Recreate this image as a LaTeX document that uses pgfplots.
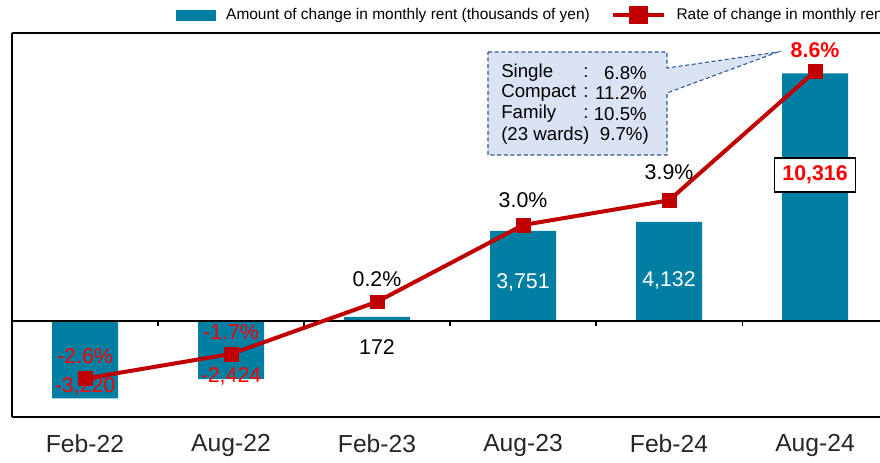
\documentclass[border=0pt]{standalone}
\usepackage{fontspec}
\setmainfont{Liberation Sans}
\usepackage{pgfplots}
\pgfplotsset{compat=1.18}
\definecolor{barcol}{RGB}{0,127,163}
\definecolor{linecol}{RGB}{192,0,0}
\definecolor{lblred}{RGB}{255,0,0}
\definecolor{callfill}{RGB}{218,227,243}
\definecolor{callline}{RGB}{47,85,151}
\newcommand{\lbl}{\fontsize{16}{18}\selectfont}
\begin{document}
\begin{tikzpicture}
\clip (0,0) rectangle (660pt,346.5pt);
\pgfplotsset{
  base/.style={scale only axis, width=651pt, height=288pt,
    at={(9pt,33.75pt)}, anchor=south west,
    xmin=-0.5, xmax=5.445, clip=false}
}
% ---------- bars (left axis) ----------
\begin{axis}[base, ymin=-4000, ymax=12000,
  axis line style={draw=none},
  xtick={0,1,2,3,4,5},
  xticklabels={Feb-22,Aug-22,Feb-23,Aug-23,Feb-24,Aug-24},
  major tick length=0pt, ytick=\empty,
  xticklabel style={font=\fontsize{18.5}{20}\selectfont, text=black!85, yshift=-9.5pt}]
\addplot[ybar, bar width=49.5pt, fill=barcol, draw=none]
  coordinates {(0,-3220) (1,-2424) (2,172) (3,3751) (4,4132) (5,10316)};
\draw[line width=1.5pt] (rel axis cs:0,0) -- (rel axis cs:0,1);
\draw[line width=1.9pt] (rel axis cs:0,1) -- (rel axis cs:1,1);
\draw[line width=1.2pt] (rel axis cs:0,0) -- (rel axis cs:1,0);
\draw[line width=0.8pt] (axis cs:-0.5,0) -- (axis cs:5.445,0);
\draw[line width=0.8pt] (axis cs:0.5,0) -- ([yshift=-4pt]axis cs:0.5,0);
\draw[line width=0.8pt] (axis cs:1.5,0) -- ([yshift=-4pt]axis cs:1.5,0);
\draw[line width=0.8pt] (axis cs:2.5,0) -- ([yshift=-4pt]axis cs:2.5,0);
\draw[line width=0.8pt] (axis cs:3.5,0) -- ([yshift=-4pt]axis cs:3.5,0);
\draw[line width=0.8pt] (axis cs:4.5,0) -- ([yshift=-4pt]axis cs:4.5,0);
\node[text=lblred, font=\lbl, yshift=9pt] at (axis cs:0,-3220) {-3,220};
\node[text=lblred, font=\lbl, yshift=2.25pt] at (axis cs:1,-2424) {-2,424};
\node[text=black, font=\lbl, yshift=-19.5pt] at (axis cs:2,0) {172};
\node[text=white, font=\lbl, yshift=-5pt] at (axis cs:3,1876) {3,751};
\node[text=white, font=\lbl, yshift=-7pt] at (axis cs:4,2066) {4,132};
\node[draw=black, fill=white, line width=0.9pt, text=lblred,
  font=\lbl\bfseries, minimum width=60.75pt, minimum height=25.5pt, inner sep=1pt]
  at (axis cs:5,6084) {10,316};
\end{axis}
% ---------- line (right axis) ----------
\begin{axis}[base, ymin=-4, ymax=10, hide axis,
  legend columns=2,
  legend style={at={(0.189,1.047)}, anchor=west, draw=none, fill=none,
    inner sep=0pt, font=\fontsize{11.6}{14}\selectfont,
    /tikz/every odd column/.append style={column sep=6pt},
    /tikz/every even column/.append style={column sep=14pt}},
  legend cell align=left]
\addlegendimage{legend image code/.code={\fill[barcol] (0pt,-3.75pt) rectangle (29pt,3.75pt);}}
\addlegendentry{Amount of change in monthly rent (thousands of yen)}
\addplot[linecol, line width=3pt, mark=square*, mark size=5.2pt,
  mark options={solid, line width=0.5pt, fill=linecol},
  legend image code/.code={\draw[linecol, line width=3pt] (0pt,0pt) -- (38pt,0pt);
    \fill[linecol] (13.6pt,-5.4pt) rectangle (24.4pt,5.4pt);}]
  coordinates {(0,-2.6) (1,-1.7) (2,0.2) (3,3.0) (4,3.9) (5,8.6)};
\addlegendentry{Rate of change in monthly rent (y/y)}
\node[text=lblred, font=\lbl, yshift=17pt] at (axis cs:0,-2.6) {-2.6\%};
\node[text=lblred, font=\lbl, yshift=16pt] at (axis cs:1,-1.7) {-1.7\%};
\node[text=black, font=\lbl, yshift=17pt] at (axis cs:2,0.2) {0.2\%};
\node[text=black, font=\lbl, yshift=19pt] at (axis cs:3,3.0) {3.0\%};
\node[text=black, font=\lbl, yshift=21pt] at (axis cs:4,3.9) {3.9\%};
\node[text=lblred, font=\lbl\bfseries, yshift=16pt] at (axis cs:5,8.6) {8.6\%};
\end{axis}
% ---------- callout ----------
\begin{scope}[x=0.75pt, y=-0.75pt, yshift=346.5pt]
\draw[callline, fill=callfill, line width=0.8pt, dash pattern=on 3pt off 2pt]
  (488,52) -- (667,52) -- (667,68) -- (778,52) -- (667,93) -- (667,155) -- (488,155) -- cycle;
\begin{scope}[font=\fontsize{14}{16}\selectfont]
\node[anchor=west, inner sep=0pt] at (501,73) {Single};
\node[anchor=west, inner sep=0pt] at (501,93) {Compact};
\node[anchor=west, inner sep=0pt] at (501,114) {Family};
\node[anchor=west, inner sep=0pt] at (501,136) {(23 wards)};
\node[inner sep=0pt] at (586,73) {:};
\node[inner sep=0pt] at (586,93) {:};
\node[inner sep=0pt] at (586,114) {:};
\node[anchor=east, inner sep=0pt] at (647,73) {6.8\%};
\node[anchor=east, inner sep=0pt] at (647,93) {11.2\%};
\node[anchor=east, inner sep=0pt] at (647,114) {10.5\%};
\node[anchor=east, inner sep=0pt] at (649,136) {9.7\%)};
\end{scope}
\end{scope}
\end{tikzpicture}
\end{document}
